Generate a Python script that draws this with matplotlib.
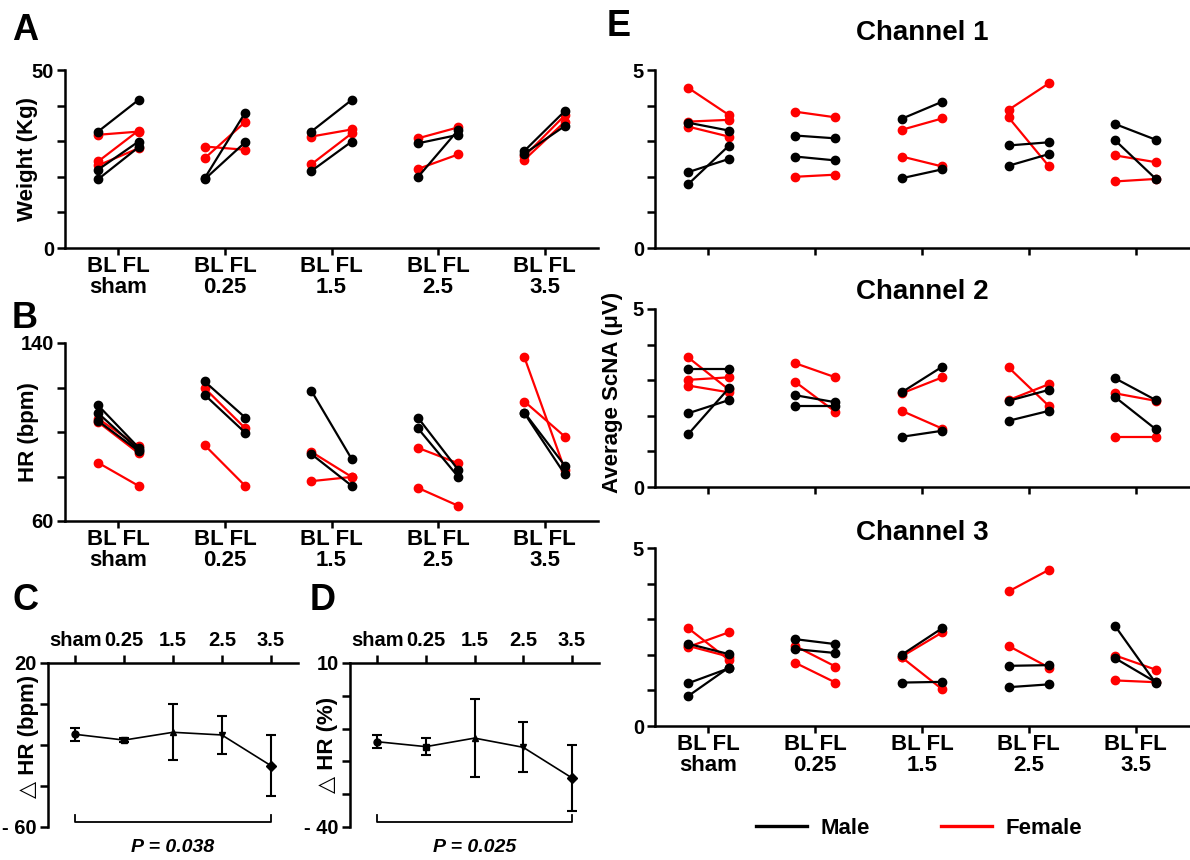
import matplotlib
matplotlib.use('Agg')
import matplotlib.pyplot as plt
from matplotlib.lines import Line2D
from matplotlib.transforms import blended_transform_factory

plt.rcParams['font.family'] = ['Liberation Sans', 'DejaVu Sans']
plt.rcParams['font.weight'] = 'bold'
plt.rcParams['axes.labelweight'] = 'bold'
plt.rcParams['axes.linewidth'] = 1.8

groups = ['sham', '0.25', '1.5', '2.5', '3.5']

# Panel A - body weight (kg), baseline (BL) and follow-up (FL), one list per group
weight_male_bl = [[32.7, 22.0, 19.3], [19.6, 19.3], [32.7, 21.6], [29.4, 19.9], [27.3, 26.5]]
weight_male_fl = [[41.6, 29.9, 28.3], [38.0, 29.7], [41.6, 29.9], [31.8, 33.2], [38.5, 34.3]]
weight_female_bl = [[31.8, 24.3, 23.2], [28.5, 25.2], [31.3, 23.5], [30.8, 22.2], [24.8, 25.8]]
weight_female_fl = [[32.7, 33.0, 28.0], [27.6, 35.4], [33.3, 32.2], [33.9, 26.3], [35.5, 37.3]]

# Panel B - heart rate (bpm)
hr_male_bl = [[112.0, 108.5, 105.0], [122.7, 116.7], [118.6, 90.1], [106.5, 101.7], [108.7, 108.4]]
hr_male_fl = [[93.0, 92.0, 91.5], [106.5, 99.7], [87.8, 75.8], [82.9, 79.8], [84.8, 80.9]]
hr_female_bl = [[106.0, 104.5, 86.2], [119.7, 94.1], [91.1, 77.9], [92.9, 74.9], [133.5, 113.7]]
hr_female_fl = [[93.5, 90.5, 75.8], [101.7, 75.8], [79.8, 79.8], [85.9, 66.8], [82.9, 97.9]]

# Panels C / D - change in HR, mean and SEM
dhr_bpm_mean = [-14.8, -17.6, -13.8, -15.1, -30.0]
dhr_bpm_sem = [3.2, 1.0, 13.6, 9.1, 15.1]
dhr_pct_mean = [-14.0, -15.5, -12.9, -15.7, -25.0]
dhr_pct_sem = [1.9, 2.6, 11.9, 7.6, 10.0]
dhr_markers = ['o', 's', '^', 'v', 'D']

# Panel E - average ScNA (uV) for the three channels
ch1_male_bl = [[3.52, 2.13, 1.79], [3.16, 2.57], [3.63, 1.96], [2.88, 2.31], [3.48, 3.02]]
ch1_male_fl = [[3.30, 2.50, 2.87], [3.08, 2.46], [4.11, 2.21], [2.97, 2.64], [3.04, 1.94]]
ch1_female_bl = [[4.50, 3.55, 3.41], [3.83, 2.00], [3.32, 2.57], [3.88, 3.67], [2.60, 1.87]]
ch1_female_fl = [[3.74, 3.60, 3.13], [3.67, 2.06], [3.64, 2.29], [4.63, 2.29], [2.41, 1.94]]

ch2_male_bl = [[3.32, 2.07, 1.48], [2.58, 2.27], [2.66, 1.41], [2.42, 1.86], [3.05, 2.52]]
ch2_male_fl = [[3.32, 2.44, 2.77], [2.38, 2.27], [3.38, 1.58], [2.73, 2.14], [2.44, 1.62]]
ch2_female_bl = [[3.64, 3.01, 2.85], [3.48, 2.96], [2.63, 2.14], [3.36, 2.44], [2.63, 1.41]]
ch2_female_fl = [[2.74, 3.08, 2.66], [3.08, 2.11], [3.08, 1.64], [2.27, 2.89], [2.42, 1.41]]

ch3_male_bl = [[2.31, 1.20, 0.84], [2.44, 2.16], [2.00, 1.22], [1.69, 1.09], [2.80, 1.90]]
ch3_male_fl = [[2.02, 1.62, 1.64], [2.30, 2.05], [2.75, 1.24], [1.71, 1.17], [1.20, 1.23]]
ch3_female_bl = [[2.75, 2.22, 2.25], [2.25, 1.78], [1.95, 1.93], [3.78, 2.25], [1.98, 1.28]]
ch3_female_fl = [[1.86, 2.63, 1.95], [1.67, 1.22], [2.63, 1.03], [4.39, 1.64], [1.58, 1.23]]

MALE = '#000000'
FEMALE = '#ff0000'
W, H = 1190, 860

fig = plt.figure(figsize=(W / 100, H / 100), dpi=100)


def px_axes(x0, y0, x1, y1):
    return fig.add_axes([x0 / W, 1 - y1 / H, (x1 - x0) / W, (y1 - y0) / H])


def pair_axes(box, ylim, yticks, ylabels, show_x=True):
    ax = px_axes(*box)
    for s in ['top', 'right']:
        ax.spines[s].set_visible(False)
    ax.set_xlim(0.5, 5.5)
    ax.set_ylim(*ylim)
    ax.set_yticks(yticks, ylabels)
    labels = ['BL FL\n' + g for g in groups] if show_x else [''] * len(groups)
    ax.set_xticks(range(1, len(groups) + 1), labels, fontsize=16, linespacing=1.0)
    ax.tick_params(axis='x', length=5, width=1.8, pad=1)
    ax.tick_params(axis='y', length=6, width=1.8, pad=2, labelsize=14.5)
    return ax


def draw_pairs(ax, bl, fl, color):
    for i, (b, f) in enumerate(zip(bl, fl)):
        x = i + 1
        for yb, yf in zip(b, f):
            ax.plot([x - 0.19, x + 0.19], [yb, yf], color=color, lw=1.6,
                    marker='o', ms=6, clip_on=False)


def delta_axes(box, ylim, yticks, ylabels, mean, sem, ylabel, ptext):
    ax = px_axes(*box)
    for s in ['bottom', 'right']:
        ax.spines[s].set_visible(False)
    ax.xaxis.tick_top()
    ax.set_xlim(-0.56, 4.56)
    ax.set_ylim(*ylim)
    ax.set_xticks(range(len(groups)), groups, fontsize=14.5)
    ax.set_yticks(yticks, ylabels)
    ax.tick_params(axis='x', length=6, width=1.8, pad=3)
    ax.tick_params(axis='y', length=6, width=1.8, pad=2, labelsize=14.5)
    x = list(range(len(groups)))
    ax.plot(x, mean, color='black', lw=1.2)
    for xi, m, e, mk in zip(x, mean, sem, dhr_markers):
        ax.errorbar(xi, m, yerr=e, fmt=mk, color='black', ms=5, elinewidth=1.5,
                    capsize=3.5, capthick=1.5)
    tr = blended_transform_factory(ax.transData, ax.transAxes)
    ax.plot([0, 0, 4, 4], [0.072, 0.03, 0.03, 0.072], transform=tr,
            color='black', lw=1.3, clip_on=False)
    ax.text(2, -0.125, ptext, transform=tr, ha='center', va='center',
            style='italic', fontsize=14)
    ax.set_ylabel(ylabel, fontsize=16, va='center')
    return ax


# A
axA = pair_axes((65, 70, 598, 248), (0, 50), [0, 10, 20, 30, 40, 50],
                ['0', '', '', '', '', '50'])
draw_pairs(axA, weight_female_bl, weight_female_fl, FEMALE)
draw_pairs(axA, weight_male_bl, weight_male_fl, MALE)
axA.set_ylabel('Weight (Kg)', fontsize=16, va='center')
axA.yaxis.set_label_coords(-0.071, 0.5)

# B
axB = pair_axes((65, 343, 598, 521), (60, 140), [60, 80, 100, 120, 140],
                ['60', '', '', '', '140'])
draw_pairs(axB, hr_female_bl, hr_female_fl, FEMALE)
draw_pairs(axB, hr_male_bl, hr_male_fl, MALE)
axB.set_ylabel('HR (bpm)', fontsize=16, va='center')
axB.yaxis.set_label_coords(-0.069, 0.5)

# C and D
axC = delta_axes((48, 663, 298, 827), (-60, 20), [-60, -40, -20, 0, 20],
                 ['- 60', '', '', '', '20'], dhr_bpm_mean, dhr_bpm_sem,
                 '\u25b3 HR (bpm)', 'P = 0.038')
axC.yaxis.set_label_coords(-0.079, 0.55)
axD = delta_axes((350, 663, 599, 827), (-40, 10), [-40, -30, -20, -10, 0, 10],
                 ['- 40', '', '', '', '', '10'], dhr_pct_mean, dhr_pct_sem,
                 '\u25b3 HR (%)', 'P = 0.025')
axD.yaxis.set_label_coords(-0.092, 0.5)

# E
e_ticks = [0, 1, 2, 3, 4, 5]
e_labels = ['0', '', '', '', '', '5']
axE1 = pair_axes((655, 70, 1189, 248), (0, 5), e_ticks, e_labels, show_x=False)
draw_pairs(axE1, ch1_female_bl, ch1_female_fl, FEMALE)
draw_pairs(axE1, ch1_male_bl, ch1_male_fl, MALE)
axE1.text(0.5, 1.2075, 'Channel 1', transform=axE1.transAxes, ha='center',
          va='center', fontsize=20)

axE2 = pair_axes((655, 309, 1189, 487), (0, 5), e_ticks, e_labels, show_x=False)
draw_pairs(axE2, ch2_female_bl, ch2_female_fl, FEMALE)
draw_pairs(axE2, ch2_male_bl, ch2_male_fl, MALE)
axE2.text(0.5, 1.0975, 'Channel 2', transform=axE2.transAxes, ha='center',
          va='center', fontsize=20)
axE2.set_ylabel('Average ScNA (\u03bcV)', fontsize=16, va='center')
axE2.yaxis.set_label_coords(-0.0796, 0.534)

axE3 = pair_axes((655, 548, 1189, 726), (0, 5), e_ticks, e_labels)
draw_pairs(axE3, ch3_female_bl, ch3_female_fl, FEMALE)
draw_pairs(axE3, ch3_male_bl, ch3_male_fl, MALE)
axE3.text(0.5, 1.086, 'Channel 3', transform=axE3.transAxes, ha='center',
          va='center', fontsize=20)
handles = [Line2D([], [], color=MALE, lw=2.4), Line2D([], [], color=FEMALE, lw=2.4)]
axE3.legend(handles, ['Male', 'Female'], loc='center', bbox_to_anchor=(0.495, -0.574),
            ncol=2, frameon=False, fontsize=16, handlelength=2.3,
            handletextpad=0.6, columnspacing=3.2)

# panel letters
for letter, x, y in [('A', 12, 30), ('B', 12, 318), ('C', 12, 601),
                     ('D', 310, 601), ('E', 607, 26)]:
    fig.text(x / W, 1 - y / H, letter, fontsize=26, ha='left', va='center')

fig.savefig('out.png', dpi=100)
